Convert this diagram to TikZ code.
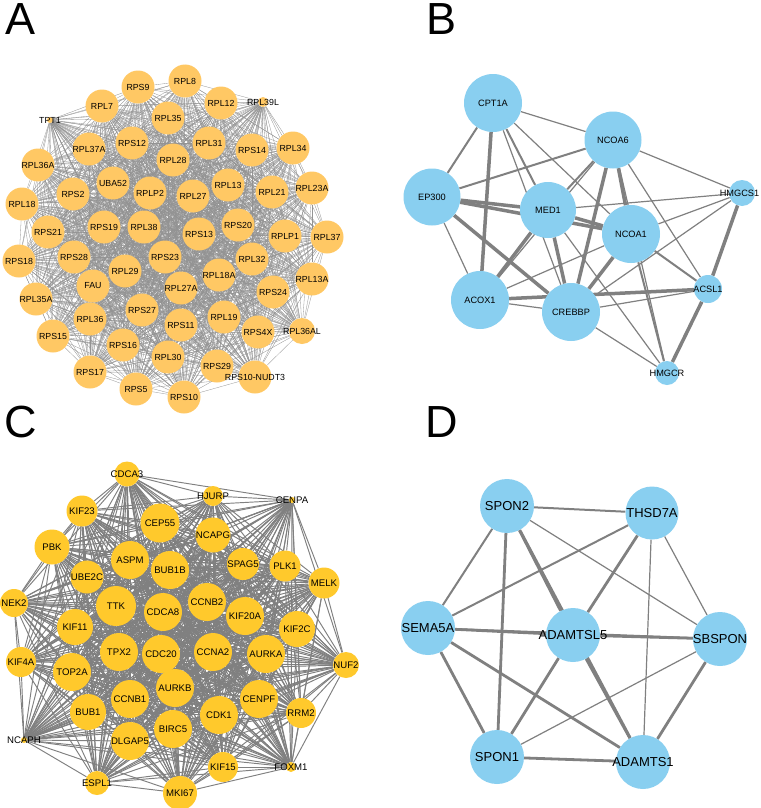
\documentclass[tikz,border=0pt]{standalone}
\usepackage{fontspec}
\setmainfont{Liberation Sans}
\usetikzlibrary{backgrounds}
\definecolor{orA}{RGB}{255,200,100}
\definecolor{yeC}{RGB}{255,201,44}
\definecolor{blu}{RGB}{137,207,240}
\definecolor{edg}{RGB}{128,128,128}
\tikzset{
  anode/.style={circle,fill=orA,inner sep=0pt,minimum size=#1},
  cnode/.style={circle,fill=yeC,inner sep=0pt,minimum size=#1},
  bnode/.style={circle,fill=blu,inner sep=0pt,minimum size=#1},
  alab/.style={font=\fontsize{8.8}{9}\selectfont,inner sep=0pt,text=black},
  clab/.style={font=\fontsize{9.6}{10}\selectfont,inner sep=0pt,text=black},
  blab/.style={font=\fontsize{9.2}{10}\selectfont,inner sep=0pt,text=black},
  dlab/.style={font=\fontsize{13}{14}\selectfont,inner sep=0pt,text=black},
  aedge/.style={draw=edg!85,line width=0.3pt},
  cedge/.style={draw=edg,line width=0.95pt},
  thin1/.style={draw=edg,line width=1.2pt},
  med1/.style={draw=edg,line width=2pt},
  thick1/.style={draw=edg,line width=3.5pt},
  plet/.style={font=\fontsize{45}{45}\selectfont,inner sep=0pt}
}
\begin{document}
\begin{tikzpicture}[x=1pt,y=-1pt]
\useasboundingbox (0,0) rectangle (760,808);
% panel letters
\node[plet] (letA) at (20.5,19) {A};
\node[plet] (letB) at (442,19) {B};
\node[plet] (letC) at (21,422) {C};
\node[plet] (letD) at (442,422) {D};
% ---------------- Panel A ----------------
\foreach \l/\x/\y/\s [count=\i] in {
 TPT1/50/120/6, RPL39L/263/102/10, RPL8/185/81/33, RPS9/138/87/33,
 RPL12/221/103/33, RPL7/102/106/33, RPL35/168/118/33, RPL37A/89/149/33,
 RPS12/132/143/33, RPL31/209/143/33, RPS14/252/150/33, RPL34/293/148/33,
 RPL28/173/160/33, RPL36A/38/165/33, UBA52/113/183/33, RPLP2/150/193/33,
 RPS2/73/194/33, RPL27/193/196/33, RPL13/228/185/33, RPL21/272/192/33,
 RPL23A/312/188/33, RPL18/22/204/33, RPS19/104/227/33, RPL38/144/227/33,
 RPS21/48/232/33, RPS20/238/225/33, RPS13/199/234/33, RPLP1/285/236/33,
 RPL37/327/237/33, RPS18/19/261/33, RPS28/74/257/33, RPS23/165/257/33,
 RPL29/125/271/33, RPL32/252/259/33, RPL18A/219/275/33, RPL13A/312/279/33,
 FAU/93/286/33, RPL27A/181/288/33, RPS24/273/292/33, RPL35A/36/299/33,
 RPS27/142/310/33, RPL36/90/319/33, RPS11/181/325/33, RPL19/224/317/33,
 RPS4X/258/332/33, RPL36AL/302/331/26, RPS15/53/336/33, RPS16/123/345/33,
 RPL30/168/357/33, RPS29/217/366/33, RPS10-NUDT3/255/377/33, RPS17/90/372/33,
 RPS5/136/389/33, RPS10/184/397/33}
 \node[anode=\s, label={[alab]center:\l}] (a\i) at (\x,\y) {};
% ---------------- Panel C ----------------
\foreach \l/\x/\y/\s [count=\i] in {
 CDCA3/127/474/25, HJURP/213/496/20, CENPA/292/500/6, KIF23/82/511/31,
 CEP55/160/523/39, NCAPG/213/535/35, PBK/52/547/35, ASPM/130/560/38,
 BUB1B/170/570/38, SPAG5/243/564/32, PLK1/285/566/31, UBE2C/87/577/33,
 MELK/324/583/31, NEK2/14/603/28, TTK/116/606/40, CDCA8/163/612/38,
 CCNB2/207/602/38, KIF20A/245/616/38, KIF11/75/627/36, KIF2C/297/629/36,
 KIF4A/21/662/30, TPX2/119/652/38, CDC20/161/654/38, CCNA2/213/652/38,
 AURKA/266/654/38, NUF2/346/665/26, TOP2A/72/672/38, AURKB/175/688/38,
 CENPF/259/699/38, CCNB1/130/699/38, BUB1/88/712/36, CDK1/219/715/38,
 RRM2/301/713/30, BIRC5/173/729/38, NCAPH/24/740/6, DLGAP5/130/741/38,
 KIF15/223/767/30, FOXM1/291/767/10, ESPL1/97/783/24, MKI67/180/793/34}
 \node[cnode=\s, label={[clab]center:\l}] (c\i) at (\x,\y) {};
% ---------------- Panel B ----------------
\node[bnode=58, label={[blab]center:CPT1A}] (bCPT) at (493,103) {};
\node[bnode=57, label={[blab]center:NCOA6}] (bNC6) at (613,140) {};
\node[bnode=57, label={[blab]center:EP300}] (bEP) at (432,197) {};
\node[bnode=56, label={[blab]center:MED1}] (bMED) at (548,210) {};
\node[bnode=58, label={[blab]center:NCOA1}] (bNC1) at (631,234) {};
\node[bnode=26, label={[blab,xshift=-2.5pt]center:HMGCS1}] (bHS) at (742,193) {};
\node[bnode=28, label={[blab]center:ACSL1}] (bAC) at (708,289) {};
\node[bnode=58, label={[blab]center:ACOX1}] (bAX) at (480,300) {};
\node[bnode=58, label={[blab]center:CREBBP}] (bCR) at (571,312) {};
\node[bnode=24, label={[blab]center:HMGCR}] (bHR) at (667,373) {};
% ---------------- Panel D ----------------
\node[bnode=54, label={[dlab]center:SPON2}] (dSP2) at (507,506) {};
\node[bnode=53, label={[dlab]center:THSD7A}] (dTH) at (652,513) {};
\node[bnode=54, label={[dlab]center:SEMA5A}] (dSE) at (428,628) {};
\node[bnode=54, label={[dlab]center:ADAMTSL5}] (dAL) at (573,635) {};
\node[bnode=54, label={[dlab]center:SBSPON}] (dSB) at (720,639) {};
\node[bnode=54, label={[dlab]center:SPON1}] (dSP1) at (497,757) {};
\node[bnode=54, label={[dlab]center:ADAMTS1}] (dAD) at (643,762) {};
% ---------------- edges ----------------
\begin{pgfonlayer}{background}
\fill[white] (0,0) rectangle (760,808);
\foreach \i in {1,...,53}{
  \pgfmathtruncatemacro\k{\i+1}
  \foreach \j in {\k,...,54}{ \draw[aedge] (a\i) -- (a\j); }
}
\foreach \i in {1,...,39}{
  \pgfmathtruncatemacro\k{\i+1}
  \foreach \j in {\k,...,40}{ \draw[cedge] (c\i) -- (c\j); }
}
% B
\foreach \u/\v in {bCPT/bNC6, bCPT/bNC1, bCPT/bCR, bEP/bAX, bNC6/bAX, bNC6/bHS,
  bNC6/bAC, bNC6/bHR, bMED/bHS, bMED/bHR, bNC1/bHS, bNC1/bAX, bHS/bCR, bAC/bCR,
  bAX/bCR, bCR/bHR}
  \draw[thin1] (\u) -- (\v);
\foreach \u/\v in {bCPT/bEP, bCPT/bMED, bEP/bNC6, bNC6/bMED, bNC1/bAC, bNC1/bHR}
  \draw[med1] (\u) -- (\v);
\foreach \u/\v in {bCPT/bAX, bEP/bMED, bEP/bNC1, bEP/bCR, bNC6/bNC1, bNC6/bCR,
  bMED/bNC1, bMED/bCR, bMED/bAX, bNC1/bCR, bHS/bAC, bAX/bAC, bAC/bHR}
  \draw[thick1] (\u) -- (\v);
% D
\foreach \u/\v in {dSP2/dSB, dTH/dAD, dTH/dSB, dSB/dSP1}
  \draw[thin1] (\u) -- (\v);
\foreach \u/\v in {dSP2/dTH, dSP2/dSE, dTH/dSE, dSE/dSB}
  \draw[med1] (\u) -- (\v);
\foreach \u/\v in {dSP2/dSP1, dSP2/dAL, dSP2/dAD, dTH/dAL, dSE/dAL, dSE/dSP1,
  dSE/dAD, dAL/dSB, dAL/dAD, dAL/dSP1, dSB/dAD, dSP1/dAD}
  \draw[draw=edg,line width=2.8pt] (\u) -- (\v);
\end{pgfonlayer}
\end{tikzpicture}
\end{document}
